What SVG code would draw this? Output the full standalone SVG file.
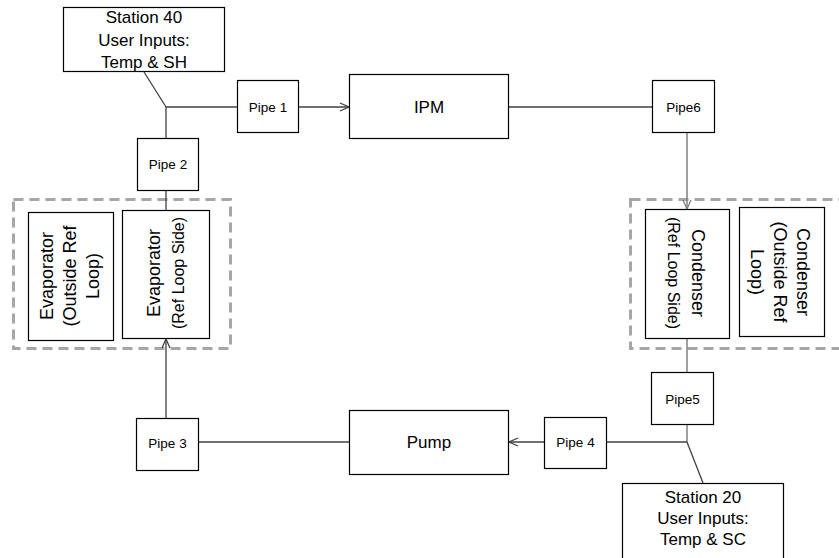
<svg xmlns="http://www.w3.org/2000/svg" width="839" height="558" viewBox="0 0 839 558">
<style>
.bg{fill:#ffffff}
.box{fill:#ffffff;stroke:#000000;stroke-width:1.2}
.grp{fill:none;stroke:#a6a6a6;stroke-width:3;stroke-dasharray:10,6}
.ln{fill:none;stroke:#404040;stroke-width:1.3}
.lg{fill:none;stroke:#808080;stroke-width:1.5}
text{font-family:"Liberation Sans",Arial,sans-serif;fill:#000000;text-anchor:middle}
.big{font-size:17px}
.rot{font-size:18px}
.rots{font-size:16px}
.sm{font-size:13.5px}
</style>
<defs>
<marker id="arr" viewBox="0 0 10 10" refX="10" refY="5" markerWidth="10" markerHeight="10" markerUnits="userSpaceOnUse" orient="auto">
<path d="M1,1 L10,5 L1,9" fill="none" stroke="#404040" stroke-width="1.3"/>
</marker>
<marker id="arrg" viewBox="0 0 10 10" refX="10" refY="5" markerWidth="10" markerHeight="10" markerUnits="userSpaceOnUse" orient="auto">
<path d="M1,1 L10,5 L1,9" fill="none" stroke="#808080" stroke-width="1.3"/>
</marker>
</defs>
<rect class="bg" x="0" y="0" width="839" height="558"/>

<g id="groups">
<rect class="grp" x="13.5" y="199.5" width="217" height="149"/>
<rect class="grp" x="630.5" y="199.5" width="215" height="149"/>
</g>

<g id="connectors">
<line class="ln" x1="144" y1="72" x2="166" y2="107"/>
<line class="ln" x1="166" y1="107" x2="237" y2="107"/>
<line class="ln" x1="166" y1="107" x2="166" y2="138"/>
<line class="ln" x1="166" y1="190" x2="166" y2="210"/>
<line class="ln" x1="298" y1="107" x2="349" y2="107" marker-end="url(#arr)"/>
<line class="ln" x1="509" y1="107" x2="652" y2="107"/>
<line class="lg" x1="687" y1="133" x2="687" y2="209" marker-end="url(#arrg)"/>
<line class="lg" x1="687" y1="339" x2="687" y2="372"/>
<line class="lg" x1="687" y1="424" x2="687" y2="442"/>
<line class="ln" x1="687" y1="442" x2="607" y2="442"/>
<line class="ln" x1="687" y1="442" x2="703" y2="483"/>
<line class="ln" x1="544" y1="442" x2="509" y2="442" marker-end="url(#arr)"/>
<line class="ln" x1="349" y1="442" x2="198" y2="442"/>
<line class="ln" x1="166" y1="418" x2="166" y2="339" marker-end="url(#arr)"/>
</g>

<g id="station40">
<rect class="box" x="63.5" y="7.5" width="161" height="64"/>
<text class="big" x="144" y="23">Station 40</text>
<text class="big" x="144" y="46">User Inputs:</text>
<text class="big" x="144" y="68">Temp &amp; SH</text>
</g>

<g id="pipe1">
<rect class="box" x="237.5" y="80.5" width="61" height="52"/>
<text class="sm" x="268" y="112">Pipe 1</text>
</g>

<g id="ipm">
<rect class="box" x="349.5" y="74.5" width="159" height="64"/>
<text class="big" x="429" y="113">IPM</text>
</g>

<g id="pipe6">
<rect class="box" x="652.5" y="80.5" width="62" height="52"/>
<text class="sm" x="683.5" y="112">Pipe6</text>
</g>

<g id="pipe2">
<rect class="box" x="137.5" y="138.5" width="61" height="52"/>
<text class="sm" x="168" y="169">Pipe 2</text>
</g>

<g id="evap-outside">
<rect class="box" x="28.5" y="212.5" width="85" height="128"/>
<g transform="translate(70,276) rotate(-90)">
<text class="rot" x="0" y="-17">Evaporator</text>
<text class="rot" x="0" y="6">(Outside Ref</text>
<text class="rot" x="0" y="29">Loop)</text>
</g>
</g>

<g id="evap-ref">
<rect class="box" x="122.5" y="210.5" width="87" height="128"/>
<g transform="translate(166,273) rotate(-90)">
<text class="rot" x="0" y="-6">Evaporator</text>
<text class="rots" x="0" y="18">(Ref Loop Side)</text>
</g>
</g>

<g id="cond-ref">
<rect class="box" x="645.5" y="209.5" width="84" height="129"/>
<g transform="translate(686,273) rotate(90)">
<text class="rot" x="0" y="-6">Condenser</text>
<text class="rots" x="0" y="18">(Ref Loop Side)</text>
</g>
</g>

<g id="cond-outside">
<rect class="box" x="739.5" y="207.5" width="85" height="129"/>
<g transform="translate(780,272) rotate(90)">
<text class="rot" x="0" y="-17">Condenser</text>
<text class="rot" x="0" y="6">(Outside Ref</text>
<text class="rot" x="0" y="29">Loop)</text>
</g>
</g>

<g id="pipe5">
<rect class="box" x="651.5" y="372.5" width="62" height="52"/>
<text class="sm" x="682.5" y="404">Pipe5</text>
</g>

<g id="pipe4">
<rect class="box" x="544.5" y="417.5" width="62" height="51"/>
<text class="sm" x="575.5" y="447">Pipe 4</text>
</g>

<g id="pump">
<rect class="box" x="349.5" y="410.5" width="159" height="64"/>
<text class="big" x="429" y="448">Pump</text>
</g>

<g id="pipe3">
<rect class="box" x="136.5" y="418.5" width="62" height="52"/>
<text class="sm" x="167.5" y="448">Pipe 3</text>
</g>

<g id="station20">
<rect class="box" x="622.5" y="483.5" width="161" height="80"/>
<text class="big" x="703" y="503">Station 20</text>
<text class="big" x="703" y="524">User Inputs:</text>
<text class="big" x="703" y="545">Temp &amp; SC</text>
</g>
</svg>
